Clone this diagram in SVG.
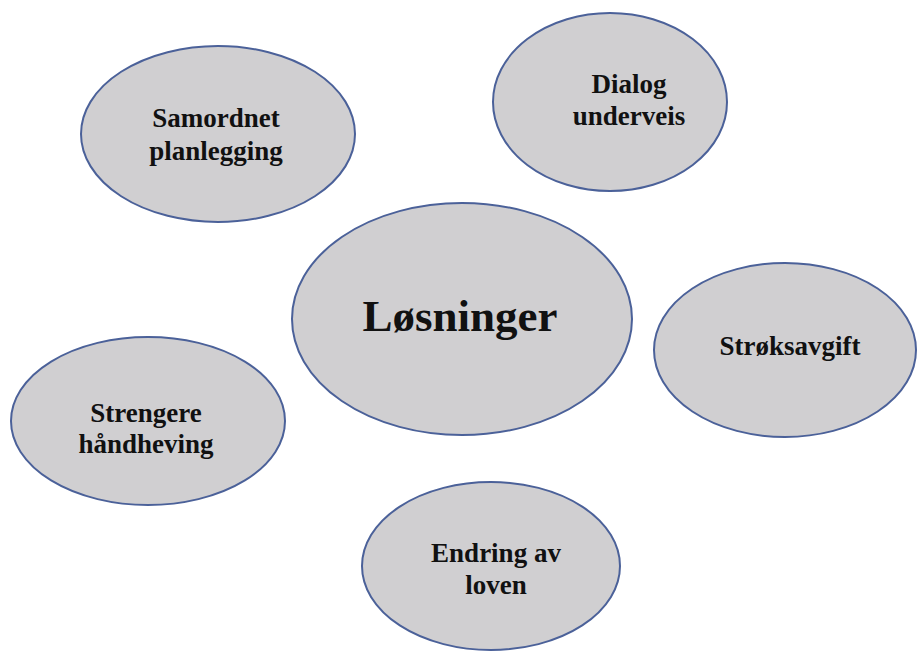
<svg xmlns="http://www.w3.org/2000/svg" width="917" height="652" viewBox="0 0 917 652">
  <style>
    .node ellipse { fill: #d0cfd1; stroke: #4b6199; stroke-width: 2; }
    .node text { font-family: "Liberation Serif", "Times New Roman", serif; font-weight: bold; fill: #111111; text-anchor: middle; font-size: 27px; }
    .node text.big { font-size: 45px; }
  </style>
  <rect width="917" height="652" fill="#ffffff"/>
  <g id="connectors"></g>
  <g id="samordnet" class="node">
    <ellipse cx="218" cy="134" rx="137" ry="88"/>
    <text x="216" y="127">Samordnet</text>
    <text x="216" y="160">planlegging</text>
  </g>
  <g id="dialog" class="node">
    <ellipse cx="610" cy="102" rx="117" ry="89"/>
    <text x="629" y="93">Dialog</text>
    <text x="629" y="125">underveis</text>
  </g>
  <g id="losninger" class="node">
    <ellipse cx="462" cy="319" rx="170" ry="116"/>
    <text class="big" x="460" y="331">Løsninger</text>
  </g>
  <g id="stroksavgift" class="node">
    <ellipse cx="785" cy="350" rx="131" ry="87"/>
    <text x="790" y="355">Strøksavgift</text>
  </g>
  <g id="strengere" class="node">
    <ellipse cx="148" cy="421" rx="137" ry="84"/>
    <text x="146" y="422">Strengere</text>
    <text x="146" y="453">håndheving</text>
  </g>
  <g id="endring" class="node">
    <ellipse cx="491" cy="566" rx="129" ry="84"/>
    <text x="496" y="562">Endring av</text>
    <text x="496" y="594">loven</text>
  </g>
</svg>
